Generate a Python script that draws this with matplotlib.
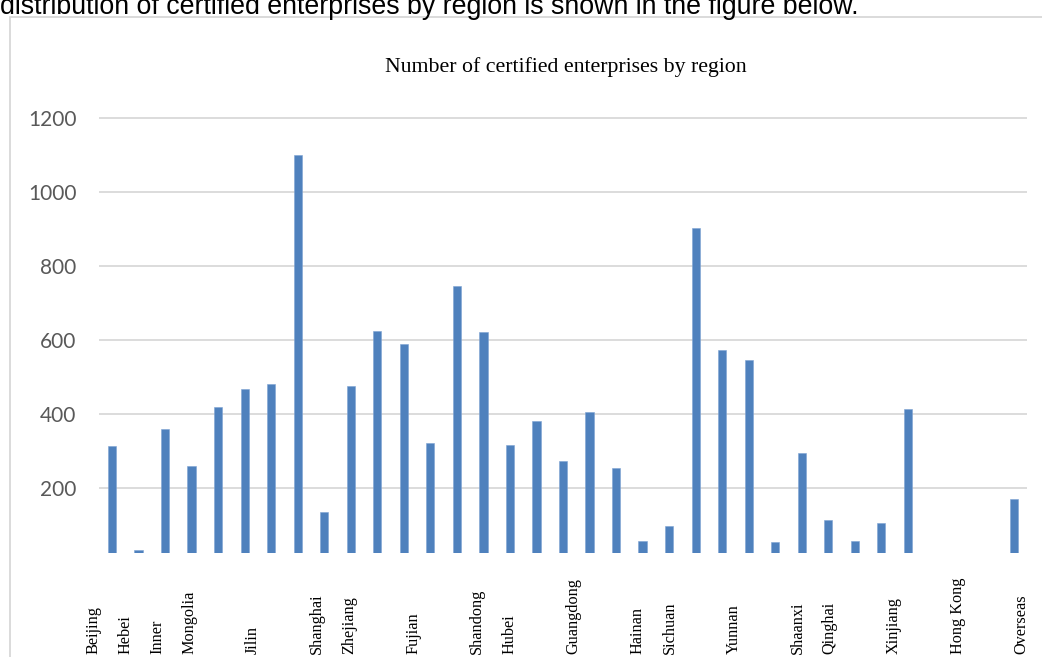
import matplotlib
matplotlib.use("Agg")
import matplotlib.pyplot as plt
from matplotlib.patches import Rectangle
from matplotlib.transforms import blended_transform_factory

# ---- data ----
bar_values = [314, 32, 361, 259, 420, 468, 481, 1101, 137, 476,
              626, 589, 322, 747, 622, 317, 381, 274, 407, 255,
              58, 99, 902, 573, 546, 56, 295, 115, 58, 106,
              414, 0, 0, 0, 171]
region_labels = ["Beijing", "Hebei", "Inner", "Mongolia", "Jilin", "Shanghai",
                 "Zhejiang", "Fujian", "Shandong", "Hubei", "Guangdong",
                 "Hainan", "Sichuan", "Yunnan", "Shaanxi", "Qinghai",
                 "Xinjiang", "Hong Kong", "Overseas"]
label_slots = [0, 1, 2, 3, 5, 7, 8, 10, 12, 13, 15, 17, 18, 20, 22, 23, 25, 27, 29]
y_ticks = [200, 400, 600, 800, 1000, 1200]
title = "Number of certified enterprises by region"
header = "distribution of certified enterprises by region is shown in the figure below."

W, H = 1042, 657
fig = plt.figure(figsize=(W / 100, H / 100), dpi=100)

# frame of the embedded chart
fig.patches.append(Rectangle((10 / W, -0.05), 1.1, 1 - 17 / H + 0.05,
                             transform=fig.transFigure, fill=False,
                             edgecolor="#D4D4D4", linewidth=1.2))

# header text (cut off at top)
fig.text(0 / W, 1 - 14 / H, header, ha="left", va="baseline",
         fontsize=19.3, family="Liberation Sans", color="#000000")

ax_left, ax_right = 98.7, 1027.3
ax_bottom, ax_top = 552.7, 90
ax = fig.add_axes([ax_left / W, 1 - ax_bottom / H,
                   (ax_right - ax_left) / W, (ax_bottom - ax_top) / H])

n = len(bar_values)
xs = list(range(n))
ax.bar(xs, bar_values, width=0.31, color="#4F81BD", edgecolor="#7EA3D3",
       linewidth=0.4, zorder=3)
ax.set_xlim(-0.5, n - 0.5)
ax.set_ylim(26, 1276)
ax.set_yticks(y_ticks)
ax.set_yticklabels([str(v) for v in y_ticks], family="Lato", fontsize=15,
                   color="#595959")
ax.tick_params(axis="y", length=0, pad=16)
ax.tick_params(axis="x", length=0, labelbottom=False)
ax.grid(axis="y", color="#D9D9D9", linewidth=1.3, zorder=0)
for s in ax.spines.values():
    s.set_visible(False)

fig.text(566 / W, 1 - 67 / H, title, ha="center", va="center",
         family="Liberation Serif", fontsize=15.7, color="#000000")

# category labels on their own slot scale
ax2 = ax.twiny()
slot_w = 32.03
ax2.set_xlim((ax_left - 93) / slot_w, (ax_right - 93) / slot_w)
ax2.axis("off")
tr = blended_transform_factory(ax2.transData, fig.transFigure)
for s, lab in zip(label_slots, region_labels):
    ax2.text(s, 3 / H, lab, rotation=90, ha="center", va="bottom",
             transform=tr, family="Liberation Serif", fontsize=11.7,
             color="#000000", clip_on=False)

fig.savefig("out.png", dpi=100)
